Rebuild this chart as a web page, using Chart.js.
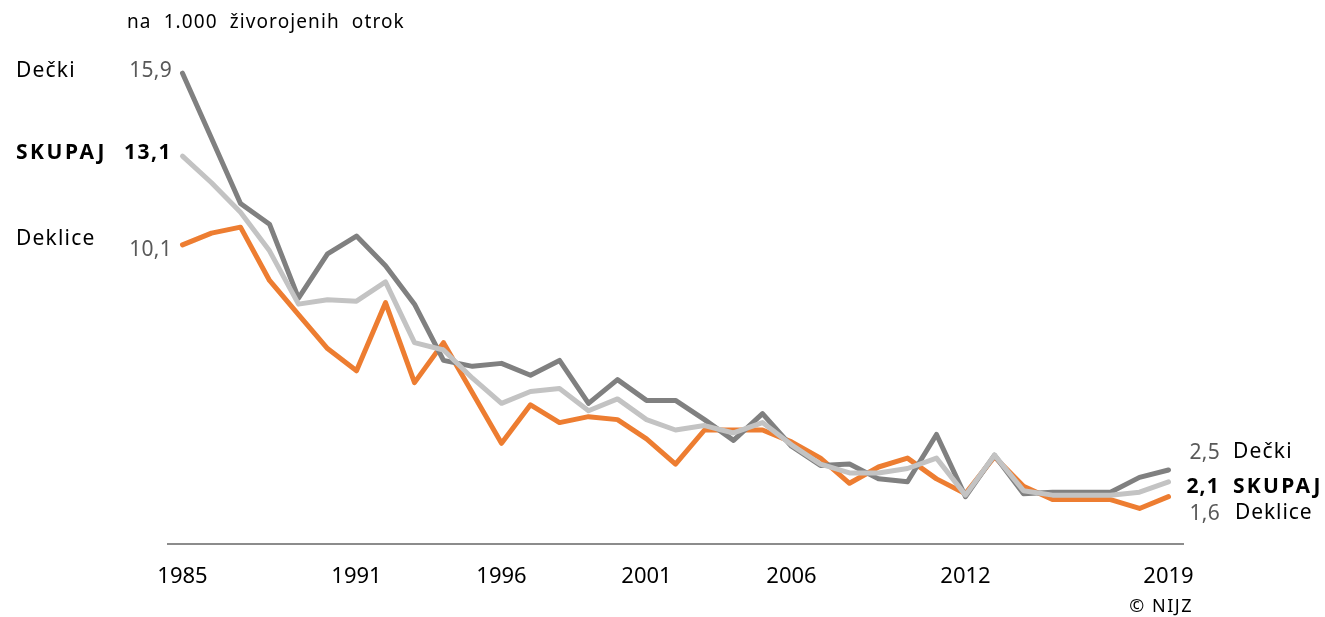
<!DOCTYPE html>
<html>
<head>
<meta charset="utf-8">
<script src="https://cdn.jsdelivr.net/npm/chart.js@4/dist/chart.umd.min.js"></script>
<style>
  html, body { margin: 0; padding: 0; background: #fff; }
  #wrap { width: 1325px; height: 617px; }
</style>
</head>
<body>
<div id="wrap"><canvas id="myChart" width="1325" height="617"></canvas></div>
<script>
(() => {
  'use strict'

  const years = []
  for (let y = 1985; y <= 2019; y++) years.push(String(y))
  const shownYears = ['1985', '1991', '1996', '2001', '2006', '2012', '2019']

  // umrljivost dojenčkov na 1.000 živorojenih otrok
  const decki = [15.9, 13.7, 11.5, 10.8, 8.3, 9.8, 10.4, 9.4, 8.1, 6.2,
    6.0, 6.1, 5.7, 6.2, 4.75, 5.55, 4.85, 4.85, 4.2, 3.5,
    4.4, 3.3, 2.65, 2.7, 2.2, 2.1, 3.7, 1.6, 3.0, 1.7,
    1.75, 1.75, 1.75, 2.25, 2.5]
  const skupaj = [13.1, 12.2, 11.2, 9.9, 8.1, 8.25, 8.2, 8.85, 6.8, 6.55,
    5.6, 4.75, 5.15, 5.25, 4.5, 4.9, 4.2, 3.85, 4.0, 3.75,
    4.1, 3.35, 2.7, 2.4, 2.4, 2.55, 2.9, 1.65, 3.0, 1.8,
    1.65, 1.65, 1.65, 1.75, 2.1]
  const deklice = [10.1, 10.5, 10.7, 8.9, 7.75, 6.6, 5.85, 8.15, 5.45, 6.8,
    5.1, 3.4, 4.7, 4.1, 4.3, 4.2, 3.55, 2.7, 3.85, 3.85,
    3.85, 3.45, 2.9, 2.05, 2.6, 2.9, 2.2, 1.7, 2.95, 1.95,
    1.5, 1.5, 1.5, 1.2, 1.6]

  const FONT = '"Noto Sans", "Open Sans", sans-serif'

  const labelsPlugin = {
    id: 'labels',
    afterDraw(chart) {
      const c = chart.ctx
      c.save()
      c.textBaseline = 'middle'
      const txt = (s, x, y, opts) => {
        c.font = (opts.bold ? 'bold ' : '') + opts.size + 'px ' + FONT
        c.fillStyle = opts.color || '#000'
        c.textAlign = opts.align || 'left'
        c.letterSpacing = (opts.ls || 0) + 'px'
        c.wordSpacing = (opts.ws || 0) + 'px'
        c.fillText(s, x, y)
      }
      txt('na 1.000 živorojenih otrok', 127, 23, { size: 19, ls: 1.1, ws: 6 })
      // levo
      txt('Dečki', 16, 71, { size: 21, ls: 1.2 })
      txt('15,9', 172, 71, { size: 21, color: '#595959', align: 'right', ls: 0.3 })
      txt('SKUPAJ', 16, 153, { size: 21, bold: true, ls: 2.5 })
      txt('13,1', 172, 153, { size: 21, bold: true, align: 'right', ls: 1.5 })
      txt('Deklice', 16, 239, { size: 21, ls: 1.2 })
      txt('10,1', 172, 250, { size: 21, color: '#595959', align: 'right', ls: 0.3 })
      // desno
      txt('2,5', 1220, 453, { size: 21, color: '#595959', align: 'right', ls: 0.3 })
      txt('Dečki', 1233, 452, { size: 21, ls: 1.2 })
      txt('2,1', 1220, 487, { size: 21, bold: true, align: 'right', ls: 1.2 })
      txt('SKUPAJ', 1233, 487, { size: 21, bold: true, ls: 2.3 })
      txt('1,6', 1220, 514, { size: 21, color: '#595959', align: 'right', ls: 0.3 })
      txt('Deklice', 1235, 513, { size: 21, ls: 0.9 })
      txt('© NIJZ', 1193, 607, { size: 18, align: 'right', ls: 1.5 })
      c.restore()
    }
  }

  const line = (label, data, color, order) => ({
    label: label,
    data: data,
    borderColor: color,
    backgroundColor: color,
    borderWidth: 5,
    pointRadius: 0,
    tension: 0,
    borderJoinStyle: 'round',
    borderCapStyle: 'round',
    order: order
  })

  const ctx = document.getElementById('myChart')
  // eslint-disable-next-line no-unused-vars
  const myChart = new Chart(ctx, {
    type: 'line',
    data: {
      labels: years,
      datasets: [
        line('Dečki', decki, '#808080', 2),
        line('SKUPAJ', skupaj, '#c3c3c3', 1),
        line('Deklice', deklice, '#ed7d31', 3)
      ]
    },
    options: {
      responsive: false,
      animation: false,
      layout: { padding: { left: 168, right: 142, top: 11, bottom: 0 } },
      plugins: {
        legend: { display: false },
        tooltip: { enabled: false }
      },
      scales: {
        x: {
          offset: true,
          grid: { display: false, drawTicks: false },
          border: { display: true, color: '#8c8c8c', width: 2 },
          afterFit: (s) => { s.height = 73 },
          ticks: {
            autoSkip: false,
            maxRotation: 0,
            padding: 20,
            color: '#000',
            font: { family: FONT, size: 22 },
            callback: function (v) {
              const l = this.getLabelForValue(v)
              return shownYears.includes(l) ? l : ''
            }
          }
        },
        y: {
          display: false,
          min: 0,
          max: 18
        }
      }
    },
    plugins: [labelsPlugin]
  })
})()
</script>
</body>
</html>
